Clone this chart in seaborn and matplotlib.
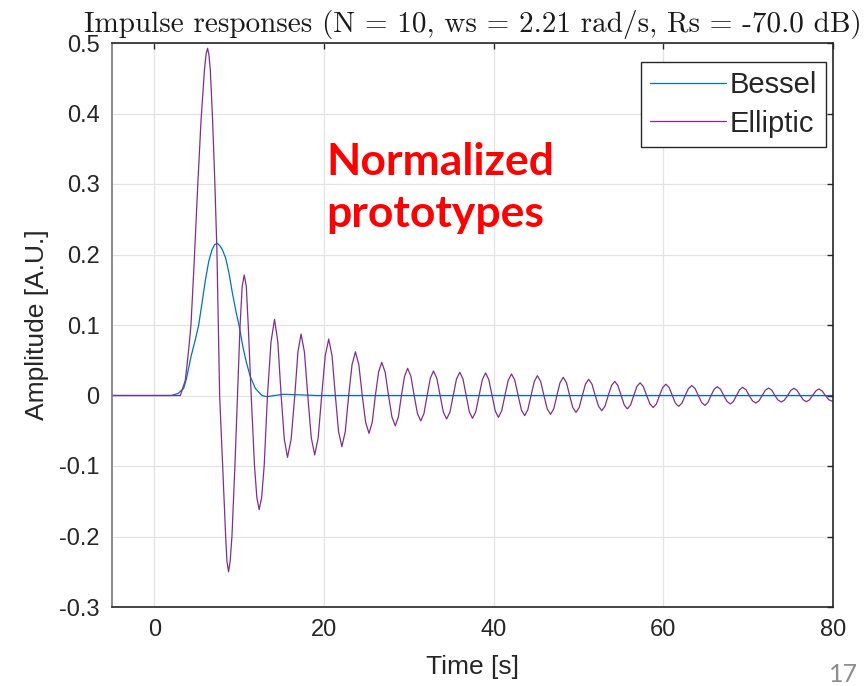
import matplotlib
matplotlib.use("Agg")
import matplotlib.pyplot as plt
import seaborn as sns

# Impulse responses (time in s, amplitude in A.U.)
bessel_t = [-5, 2.0, 2.8, 3.45, 3.8, 4.31, 4.8, 5.22, 5.6, 6.0, 6.4, 6.8, 7.1, 7.4, 7.75, 8.0,
            8.4, 8.8, 9.2, 9.6, 10.0, 10.45, 10.82, 11.3, 11.9, 12.67, 13.25, 14.2, 15.2,
            17.0, 19.1, 80]
bessel_v = [0, 0, 0.003, 0.010, 0.025, 0.055, 0.078, 0.1, 0.13, 0.163, 0.19, 0.207, 0.214, 0.216,
            0.212, 0.207, 0.195, 0.173, 0.145, 0.12, 0.098, 0.068, 0.048, 0.027, 0.01, 0.0,
            -0.0017, 0.0, 0.0017, 0.001, 0.0, 0.0]

elliptic_t = [
    -5, 3.06, 3.65, 4.04, 4.31, 4.7, 5.1, 5.5, 5.9, 6.1, 6.27, 6.43, 6.59, 6.86, 7.14, 7.37, 7.53,
    7.69, 8.04, 8.4, 8.55, 8.74, 8.93, 9.14, 9.49,
    9.8, 10.1, 10.35, 10.59, 10.83, 11.06,
    11.41, 11.8, 12.08, 12.35, 12.64, 12.94,
    13.33, 13.745, 14.16, 14.55,
    14.94, 15.315, 15.69, 16.12,
    16.55, 16.92, 17.29, 17.685,
    18.08, 18.49, 18.9, 19.31,
    19.72, 20.14, 20.55, 20.94,
    21.33, 21.71, 22.1, 22.5,
    22.9, 23.3, 23.7, 24.1,
    24.5, 24.9, 25.3, 25.68,
    26.05, 26.43, 26.8, 27.2,
    27.6, 28.0, 28.4, 28.76,
    29.12, 29.49, 29.85, 30.24,
    30.62, 31.01, 31.4, 31.78,
    32.15, 32.53, 32.9, 33.29,
    33.68, 34.06, 34.45, 34.84,
    35.22, 35.61, 36.0, 36.38,
    36.75, 37.12, 37.5, 37.89,
    38.28, 38.66, 39.05, 39.42,
    39.8, 40.18, 40.55, 40.94,
    41.32, 41.71, 42.1, 42.49,
    42.88, 43.26, 43.65, 44.02,
    44.4, 44.78, 45.15, 45.54,
    45.92, 46.31, 46.7, 47.08,
    47.45, 47.82, 48.2, 48.58,
    48.95, 49.32, 49.7, 50.08,
    50.45, 50.82, 51.2, 51.58,
    51.97, 52.36, 52.74, 53.12,
    53.5, 53.89, 54.27, 54.64,
    55.02, 55.39, 55.76, 56.14,
    56.51, 56.88, 57.26, 57.64,
    58.03, 58.42, 58.8, 59.18,
    59.55, 59.92, 60.3, 60.68,
    61.05, 61.42, 61.8, 62.19,
    62.58, 62.96, 63.35, 63.74,
    64.12, 64.51, 64.9, 65.26,
    65.62, 65.99, 66.35, 66.74,
    67.12, 67.51, 67.9, 68.26,
    68.62, 68.99, 69.35, 69.74,
    70.12, 70.51, 70.9, 71.28,
    71.65, 72.02, 72.4, 72.78,
    73.15, 73.52, 73.9, 74.28,
    74.65, 75.02, 75.4, 75.76,
    76.13, 76.5, 76.86, 77.23,
    77.6, 77.98, 78.35, 78.72,
    79.1, 79.5, 80.0,
]
elliptic_v = [
    0, 0, 0.022, 0.065, 0.1, 0.192, 0.296, 0.391, 0.462, 0.485, 0.4925, 0.483, 0.4617, 0.3908, 0.2962, 0.205, 0.1,
    0, -0.1, -0.2, -0.235, -0.25, -0.235, -0.2, -0.1,
    0, 0.1, 0.155, 0.171, 0.155, 0.1,
    0, -0.1, -0.145, -0.162, -0.145, -0.1,
    0, 0.076, 0.108, 0.076,
    0, -0.062, -0.0877, -0.062,
    0, 0.0617, 0.0872, 0.0617,
    0, -0.0597, -0.0844, -0.0597,
    0, 0.0566, 0.080, 0.0566,
    0, -0.0513, -0.0726, -0.0513,
    0, 0.0438, 0.062, 0.0438,
    0, -0.038, -0.0537, -0.038,
    0, 0.0332, 0.047, 0.0332,
    0, -0.0304, -0.043, -0.0304,
    0, 0.0272, 0.0385, 0.0272,
    0, -0.0255, -0.036, -0.0255,
    0, 0.0246, 0.0348, 0.0246,
    0, -0.0235, -0.0333, -0.0235,
    0, 0.0233, 0.033, 0.0233,
    0, -0.0229, -0.0324, -0.0229,
    0, 0.0226, 0.032, 0.0226,
    0, -0.0219, -0.031, -0.0219,
    0, 0.0216, 0.0305, 0.0216,
    0, -0.0202, -0.0286, -0.0202,
    0, 0.0198, 0.028, 0.0198,
    0, -0.0189, -0.0267, -0.0189,
    0, 0.0182, 0.0258, 0.0182,
    0, -0.017, -0.024, -0.017,
    0, 0.0163, 0.023, 0.0163,
    0, -0.0152, -0.0215, -0.0152,
    0, 0.0141, 0.020, 0.0141,
    0, -0.0134, -0.019, -0.0134,
    0, 0.0127, 0.018, 0.0127,
    0, -0.012, -0.017, -0.012,
    0, 0.0113, 0.016, 0.0113,
    0, -0.0109, -0.0154, -0.0109,
    0, 0.0099, 0.014, 0.0099,
    0, -0.0099, -0.014, -0.0099,
    0, 0.0088, 0.0125, 0.0088,
    0, -0.0085, -0.012, -0.0085,
    0, 0.0082, 0.0116, 0.0082,
    0, -0.0076, -0.0107, -0.0076,
    0, 0.0075, 0.0106, 0.0075,
    0, -0.0065, -0.0092, -0.0065,
    0, 0.0072, 0.0102, 0.0072,
    0, -0.0062, -0.0088, -0.0062,
    0, 0.0065, 0.0092, 0.0065,
    0, -0.006, -0.0085,
]
assert len(elliptic_t) == len(elliptic_v)
assert len(bessel_t) == len(bessel_v)

x_ticks = [0, 20, 40, 60, 80]
y_ticks = [-0.3, -0.2, -0.1, 0, 0.1, 0.2, 0.3, 0.4, 0.5]
y_tick_labels = ["-0.3", "-0.2", "-0.1", "0", "0.1", "0.2", "0.3", "0.4", "0.5"]

sns.set_style("whitegrid")
plt.rcParams["font.family"] = ["Liberation Sans", "DejaVu Sans"]

W, H = 865, 686
fig = plt.figure(figsize=(W / 100, H / 100), dpi=100)
ax = fig.add_axes([112 / W, 1 - 607 / H, (833 - 112) / W, (607 - 43) / H])

sns.lineplot(x=bessel_t, y=bessel_v, color="#0072BD", lw=0.9, label="Bessel", ax=ax)
sns.lineplot(x=elliptic_t, y=elliptic_v, color="#7E2F8E", lw=0.9, label="Elliptic", ax=ax)

ax.set_xlim(-5, 80)
ax.set_ylim(-0.3, 0.5)
ax.set_xticks(x_ticks)
ax.set_yticks(y_ticks)
ax.set_yticklabels(y_tick_labels)
ax.grid(True, color="#e3e3e3", lw=0.9)
ax.tick_params(direction="in", length=4, width=1, top=True, right=True,
               labelsize=17, colors="#262626", pad=9)
for side, sp in ax.spines.items():
    sp.set_visible(True)
    sp.set_color("#262626" if side != "left" else "#777777")
    sp.set_linewidth(1.2)

ax.set_title("Impulse responses (N = 10, ws = 2.21 rad/s, Rs = -70.0 dB)",
             fontfamily="cmr10", fontsize=21, pad=8, color="#1a1a1a")
ax.set_xlabel("Time [s]", fontsize=19, color="#262626")
ax.set_ylabel("Amplitude [A.U.]", fontsize=19, color="#262626")
ax.xaxis.set_label_coords(0.5, -0.085)
ax.yaxis.set_label_coords(-0.088, 0.5)

leg = ax.legend(loc="upper right", bbox_to_anchor=(826 / W, 1 - 62 / H),
                bbox_transform=fig.transFigure, borderaxespad=0, fontsize=21,
                frameon=True, fancybox=False, framealpha=1, edgecolor="#262626",
                handlelength=2.6, handletextpad=0.12, labelspacing=0.35, borderpad=0.32)
leg.get_frame().set_linewidth(1.0)

fig.text(326 / W, 1 - 175 / H, "Normalized", color="#ff0000", fontsize=32,
         fontfamily="Lato", fontweight="bold", va="baseline")
fig.text(326 / W, 1 - 227 / H, "prototypes", color="#ff0000", fontsize=32,
         fontfamily="Lato", fontweight="bold", va="baseline")
fig.text(858 / W, 1 - 682 / H, "17", color="#8c8c8c", fontsize=18,
         fontfamily="Lato", ha="right", va="baseline")

fig.savefig("out.png", dpi=100)
